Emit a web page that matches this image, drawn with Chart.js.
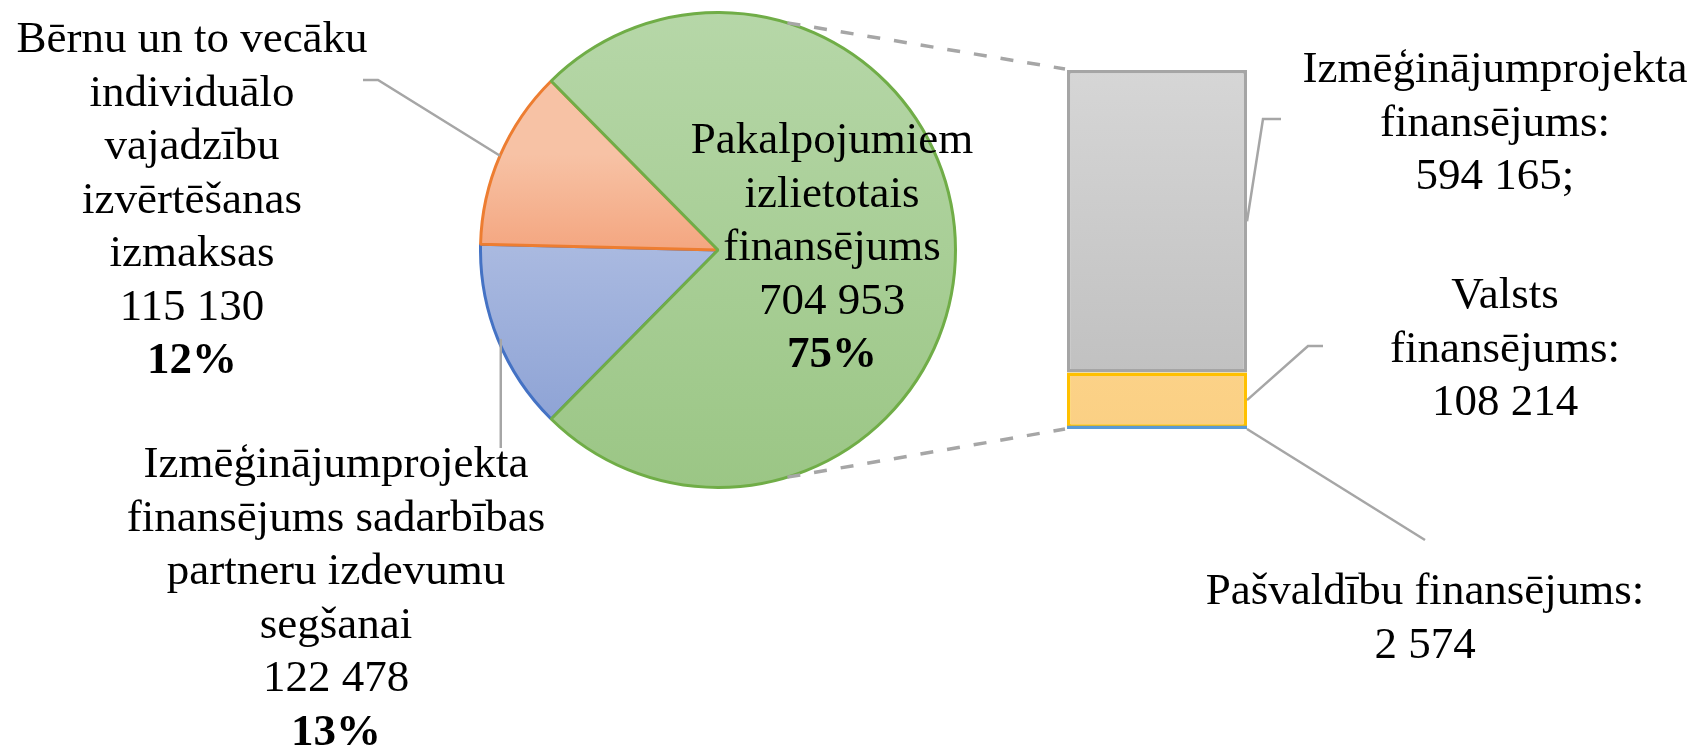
<!DOCTYPE html>
<html>
<head>
<meta charset="utf-8">
<script src="https://cdn.jsdelivr.net/npm/chart.js@4.4.1/dist/chart.umd.min.js"></script>
<style>
  html, body { margin: 0; padding: 0; background: #fff; }
  #wrap { position: relative; width: 1696px; height: 752px; overflow: hidden; }
  #wrap canvas { position: absolute; }
  #pie { left: 479px; top: 11px; }
  #bar { left: 1040px; top: 60px; }
  #overlay { left: 0; top: 0; pointer-events: none; }
</style>
</head>
<body>
<div id="wrap">
  <canvas id="pie" width="478" height="478"></canvas>
  <canvas id="bar" width="234" height="380"></canvas>
  <canvas id="overlay" width="1696" height="752"></canvas>
</div>
<script>
'use strict';

// Main pie (draw order: blue, orange, green)
const pieLabels = [
  ['Izmēģinājumprojekta', 'finansējums sadarbības', 'partneru izdevumu', 'segšanai'],
  ['Bērnu un to vecāku', 'individuālo', 'vajadzību', 'izvērtēšanas', 'izmaksas'],
  ['Pakalpojumiem', 'izlietotais', 'finansējums']
];
const pieValues = [122478, 115130, 704953];

// Split bar of the green slice (bottom to top)
const barLabels = [
  ['Pašvaldību finansējums:'],
  ['Valsts', 'finansējums:'],
  ['Izmēģinājumprojekta', 'finansējums:']
];
const barValues = [2574, 108214, 594165];
const barValueSuffix = ['', '', ';'];

const FONT = '"Liberation Serif", "Times New Roman", serif';
const LINE_H = 53.5;
const LEADER = '#a6a6a6';

const pieBorders = ['#4472c4', '#ed7d31', '#70ad47'];
const pieStops = [
  [[0.5, '#a9b9e0'], [0.86, '#8ea3d5']],
  [[0.3, '#f7c2a5'], [0.5, '#f4a680']],
  [[0, '#b6d7a8'], [1, '#9bc685']]
];
const barBorders = ['#5b9bd5', '#ffc000', '#a5a5a5'];
const barStops = [
  [[0, '#5b9bd5'], [1, '#5b9bd5']],
  [[0, '#ffdc9c'], [1, '#fbd084']],
  [[0, '#d6d6d6'], [1, '#bdbdbd']]
];

const fmt = v => String(v).replace(/\B(?=(\d{3})+(?!\d))/g, ' ');
const pieTotal = pieValues.reduce((a, b) => a + b, 0);
const barTotal = barValues.reduce((a, b) => a + b, 0);

function gradFill(stops, ctx) {
  const area = ctx.chart.chartArea;
  if (!area) return stops[0][1];
  const g = ctx.chart.ctx.createLinearGradient(0, area.top, 0, area.bottom);
  stops.forEach(s => g.addColorStop(s[0], s[1]));
  return g;
}

const otherAngle = pieValues[2] / pieTotal * 360;

const pieChart = new Chart(document.getElementById('pie'), {
  type: 'pie',
  data: {
    labels: pieLabels.map(l => l.join(' ')),
    datasets: [{
      data: pieValues,
      backgroundColor: c => gradFill(pieStops[c.dataIndex], c),
      borderColor: pieBorders,
      borderWidth: 3,
      hoverOffset: 0
    }]
  },
  options: {
    responsive: false, animation: false,
    rotation: 90 + otherAngle / 2,
    layout: { padding: 0 },
    plugins: { legend: { display: false }, tooltip: { enabled: false } }
  }
});

const barChart = new Chart(document.getElementById('bar'), {
  type: 'bar',
  data: {
    labels: [''],
    datasets: barValues.map((v, i) => ({
      label: barLabels[i].join(' '),
      data: [v],
      backgroundColor: c => gradFill(barStops[i], c),
      borderColor: barBorders[i],
      borderWidth: i === 0 ? 0 : 3.5,
      borderSkipped: false,
      inflateAmount: i === 0 ? 2 : 0,
      barPercentage: 1,
      categoryPercentage: 1
    }))
  },
  options: {
    responsive: false, animation: false,
    layout: { padding: { left: 27, right: 27, top: 10, bottom: 11 } },
    scales: {
      x: { display: false, stacked: true },
      y: { display: false, stacked: true, min: 0, max: barTotal }
    },
    plugins: { legend: { display: false }, tooltip: { enabled: false } }
  }
});

// ---- connectors, leader lines and labels ----
const ov = document.getElementById('overlay').getContext('2d');
const pieEl = document.getElementById('pie');
const barEl = document.getElementById('bar');
const arcs = pieChart.getDatasetMeta(0).data;
const cx = arcs[0].x + pieEl.offsetLeft;
const cy = arcs[0].y + pieEl.offsetTop;
const R = arcs[0].outerRadius;
const onCircle = a => [cx + R * Math.cos(a), cy + R * Math.sin(a)];
const midAngle = a => (a.startAngle + a.endAngle) / 2;

const bars = barChart.data.datasets.map((d, i) => {
  const b = barChart.getDatasetMeta(i).data[0];
  return {
    left: b.x - b.width / 2 + barEl.offsetLeft,
    right: b.x + b.width / 2 + barEl.offsetLeft,
    top: b.y + barEl.offsetTop,
    bottom: b.base + barEl.offsetTop
  };
});
const barTop = bars[2].top, barBottom = bars[0].bottom, barLeft = bars[2].left, barRight = bars[2].right;

function poly(pts, dash) {
  ov.save();
  ov.strokeStyle = LEADER;
  ov.lineWidth = dash ? 3.5 : 2.5;
  ov.setLineDash(dash || []);
  ov.beginPath();
  ov.moveTo(pts[0][0], pts[0][1]);
  pts.slice(1).forEach(p => ov.lineTo(p[0], p[1]));
  ov.stroke();
  ov.restore();
}

// dashed series lines pie -> bar
const CONNECT = 73 * Math.PI / 180;
poly([onCircle(-CONNECT), [barLeft - 2, barTop - 1]], [13, 14]);
poly([onCircle(CONNECT), [barLeft - 2, barBottom]], [13, 14]);

// pie leaders
const mBlue = onCircle(midAngle(arcs[0]));
poly([[mBlue[0] + 3, mBlue[1]], [mBlue[0] + 3, 448]]);
const mOrange = onCircle(midAngle(arcs[1]));
poly([mOrange, [378, 80], [363, 80]]);

// bar leaders
poly([[barRight, (bars[2].top + bars[2].bottom) / 2], [1263, 119], [1281, 119]]);
poly([[barRight, (bars[1].top + bars[1].bottom) / 2], [1308, 346], [1323, 346]]);
poly([[barRight, barBottom], [1425, 540]]);

function label(lines, x, y0, boldLast) {
  ov.save();
  ov.fillStyle = '#000';
  ov.textAlign = 'center';
  ov.textBaseline = 'alphabetic';
  lines.forEach((t, i) => {
    const bold = boldLast && i === lines.length - 1;
    ov.font = (bold ? 'bold ' : '') + '45px ' + FONT;
    ov.fillText(t, x, y0 + i * LINE_H);
  });
  ov.restore();
}

const pct = v => Math.round(v / pieTotal * 100) + '%';
const pieText = i => pieLabels[i].concat([fmt(pieValues[i]), pct(pieValues[i])]);
label(pieText(0), 336, 477, true);
label(pieText(1), 192, 52, true);
label(pieText(2), 832, 153, true);

const barText = i => barLabels[i].concat([fmt(barValues[i]) + barValueSuffix[i]]);
label(barText(2), 1495, 82, false);
label(barText(1), 1505, 308, false);
label(barText(0), 1425, 604, false);
</script>
</body>
</html>
